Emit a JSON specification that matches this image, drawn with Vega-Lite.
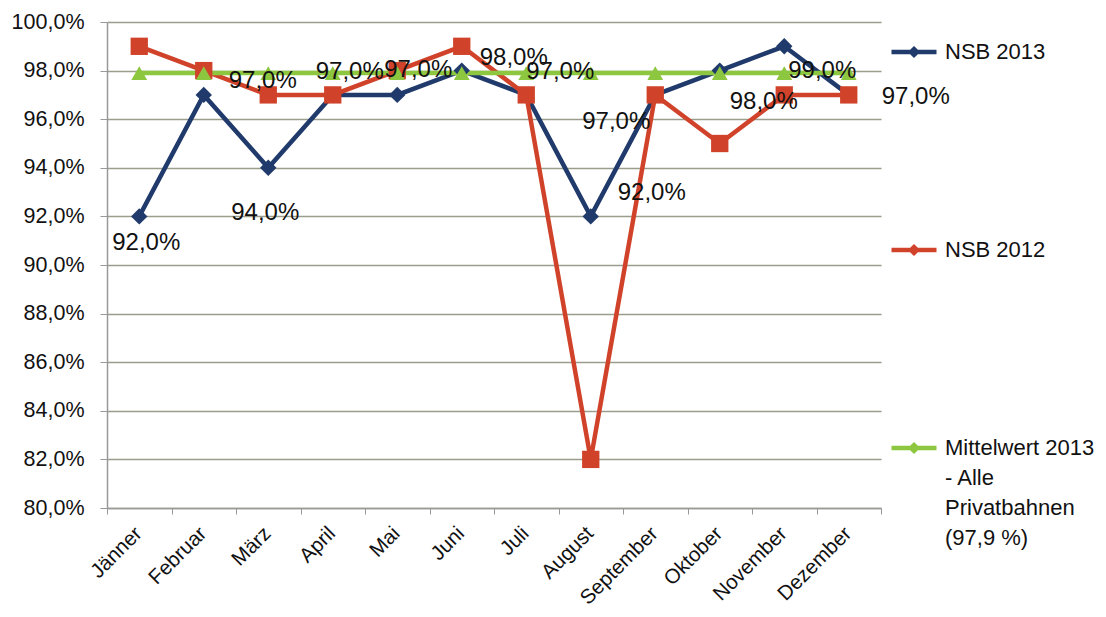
{
  "$schema": "https://vega.github.io/schema/vega-lite/v6.json",
  "width": 774,
  "height": 486,
  "autosize": {"type": "none"},
  "padding": {"left": 107, "top": 22, "right": 225, "bottom": 109},
  "background": "white",
  "config": {
    "locale": {"number": {"decimal": ",", "thousands": ".", "grouping": [3], "currency": ["", " €"]}},
    "font": "Liberation Sans",
    "view": {"stroke": null},
    "style": {"guide-label": {"lineHeight": 30}}
  },
  "data": {
    "values": [
      {"series": "NSB 2013", "month": "Jänner", "value": 0.92},
      {"series": "NSB 2013", "month": "Februar", "value": 0.97},
      {"series": "NSB 2013", "month": "März", "value": 0.94},
      {"series": "NSB 2013", "month": "April", "value": 0.97},
      {"series": "NSB 2013", "month": "Mai", "value": 0.97},
      {"series": "NSB 2013", "month": "Juni", "value": 0.98},
      {"series": "NSB 2013", "month": "Juli", "value": 0.97},
      {"series": "NSB 2013", "month": "August", "value": 0.92},
      {"series": "NSB 2013", "month": "September", "value": 0.97},
      {"series": "NSB 2013", "month": "Oktober", "value": 0.98},
      {"series": "NSB 2013", "month": "November", "value": 0.99},
      {"series": "NSB 2013", "month": "Dezember", "value": 0.97},
      {"series": "NSB 2012", "month": "Jänner", "value": 0.99},
      {"series": "NSB 2012", "month": "Februar", "value": 0.98},
      {"series": "NSB 2012", "month": "März", "value": 0.97},
      {"series": "NSB 2012", "month": "April", "value": 0.97},
      {"series": "NSB 2012", "month": "Mai", "value": 0.98},
      {"series": "NSB 2012", "month": "Juni", "value": 0.99},
      {"series": "NSB 2012", "month": "Juli", "value": 0.97},
      {"series": "NSB 2012", "month": "August", "value": 0.82},
      {"series": "NSB 2012", "month": "September", "value": 0.97},
      {"series": "NSB 2012", "month": "Oktober", "value": 0.95},
      {"series": "NSB 2012", "month": "November", "value": 0.97},
      {"series": "NSB 2012", "month": "Dezember", "value": 0.97},
      {"series": "Mittelwert 2013 - Alle Privatbahnen (97,9 %)", "month": "Jänner", "value": 0.979},
      {"series": "Mittelwert 2013 - Alle Privatbahnen (97,9 %)", "month": "Februar", "value": 0.979},
      {"series": "Mittelwert 2013 - Alle Privatbahnen (97,9 %)", "month": "März", "value": 0.979},
      {"series": "Mittelwert 2013 - Alle Privatbahnen (97,9 %)", "month": "April", "value": 0.979},
      {"series": "Mittelwert 2013 - Alle Privatbahnen (97,9 %)", "month": "Mai", "value": 0.979},
      {"series": "Mittelwert 2013 - Alle Privatbahnen (97,9 %)", "month": "Juni", "value": 0.979},
      {"series": "Mittelwert 2013 - Alle Privatbahnen (97,9 %)", "month": "Juli", "value": 0.979},
      {"series": "Mittelwert 2013 - Alle Privatbahnen (97,9 %)", "month": "August", "value": 0.979},
      {"series": "Mittelwert 2013 - Alle Privatbahnen (97,9 %)", "month": "September", "value": 0.979},
      {"series": "Mittelwert 2013 - Alle Privatbahnen (97,9 %)", "month": "Oktober", "value": 0.979},
      {"series": "Mittelwert 2013 - Alle Privatbahnen (97,9 %)", "month": "November", "value": 0.979},
      {"series": "Mittelwert 2013 - Alle Privatbahnen (97,9 %)", "month": "Dezember", "value": 0.979}
    ]
  },
  "encoding": {
    "x": {
      "field": "month", "type": "ordinal", "sort": null, "bandPosition": 0.5,
      "scale": {"type": "band", "paddingInner": 0, "paddingOuter": 0},
      "axis": {
        "title": null, "labelAngle": -45, "labelFontSize": 20.5, "labelColor": "#111",
        "tickBand": "extent", "tickSize": 6, "tickColor": "#999", "domainColor": "#999",
        "domainWidth": 1.5, "grid": false, "labelPadding": 9, "labelOffset": -8
      }
    },
    "y": {
      "field": "value", "type": "quantitative",
      "scale": {"domain": [0.8, 1.0], "nice": false, "zero": false},
      "axis": {
        "title": null, "format": ".1%", "values": [0.8, 0.82, 0.84, 0.86, 0.88, 0.9, 0.92, 0.94, 0.96, 0.98, 1.0],
        "labelFontSize": 21.5, "labelColor": "#111", "tickSize": 7, "tickColor": "#999",
        "domainColor": "#999", "domainWidth": 1.5, "gridColor": "#9a9d8c", "gridWidth": 1.5,
        "labelPadding": 16
      }
    },
    "color": {
      "field": "series", "type": "nominal",
      "scale": {"domain": ["NSB 2013", "NSB 2012", "Mittelwert 2013 - Alle Privatbahnen (97,9 %)"], "range": ["#1f3a6b", "#d0432a", "#8dc63f"]},
      "legend": {
        "title": null, "orient": "none", "legendX": 782, "legendY": 5,
        "symbolType": "M-1,0H1M0,-0.13L0.13,0L0,0.13L-0.13,0Z", "symbolSize": 2025, "symbolStrokeWidth": 4.5,
        "labelFontSize": 22, "labelColor": "#111", "labelOffset": 6, "rowPadding": 161,
        "labelLimit": 300,
        "labelExpr": "indexof(datum.label, 'Mittelwert') == 0 ? ['Mittelwert 2013', '- Alle', 'Privatbahnen', '(97,9 %)'] : datum.label"
      }
    }
  },
  "layer": [
    {"mark": {"type": "line", "strokeWidth": 4.5}},
    {"transform": [{"filter": "datum.series == 'NSB 2013'"}], "mark": {"type": "point", "filled": true, "opacity": 1, "shape": "diamond", "size": 270}},
    {"transform": [{"filter": "datum.series == 'NSB 2012'"}], "mark": {"type": "point", "filled": true, "opacity": 1, "shape": "square", "size": 300}},
    {"transform": [{"filter": "indexof(datum.series, 'Mittelwert') == 0"}], "mark": {"type": "point", "filled": true, "opacity": 1, "shape": "triangle-up", "size": 250}},
    {"transform": [{"filter": "datum.series == 'NSB 2013' && datum.month == 'Jänner'"}], "mark": {"type": "text", "fontSize": 24, "dx": 7, "dy": 27}, "encoding": {"text": {"field": "value", "format": ".1%"}, "color": {"value": "#111"}}},
    {"transform": [{"filter": "datum.series == 'NSB 2013' && datum.month == 'Februar'"}], "mark": {"type": "text", "fontSize": 24, "dx": 59, "dy": -14}, "encoding": {"text": {"field": "value", "format": ".1%"}, "color": {"value": "#111"}}},
    {"transform": [{"filter": "datum.series == 'NSB 2013' && datum.month == 'März'"}], "mark": {"type": "text", "fontSize": 24, "dx": -3, "dy": 45}, "encoding": {"text": {"field": "value", "format": ".1%"}, "color": {"value": "#111"}}},
    {"transform": [{"filter": "datum.series == 'NSB 2013' && datum.month == 'April'"}], "mark": {"type": "text", "fontSize": 24, "dx": 17, "dy": -23}, "encoding": {"text": {"field": "value", "format": ".1%"}, "color": {"value": "#111"}}},
    {"transform": [{"filter": "datum.series == 'NSB 2013' && datum.month == 'Mai'"}], "mark": {"type": "text", "fontSize": 24, "dx": 21, "dy": -25}, "encoding": {"text": {"field": "value", "format": ".1%"}, "color": {"value": "#111"}}},
    {"transform": [{"filter": "datum.series == 'NSB 2013' && datum.month == 'Juni'"}], "mark": {"type": "text", "fontSize": 24, "dx": 52, "dy": -13}, "encoding": {"text": {"field": "value", "format": ".1%"}, "color": {"value": "#111"}}},
    {"transform": [{"filter": "datum.series == 'NSB 2013' && datum.month == 'Juli'"}], "mark": {"type": "text", "fontSize": 24, "dx": 34, "dy": -23}, "encoding": {"text": {"field": "value", "format": ".1%"}, "color": {"value": "#111"}}},
    {"transform": [{"filter": "datum.series == 'NSB 2013' && datum.month == 'August'"}], "mark": {"type": "text", "fontSize": 24, "dx": 61, "dy": -23}, "encoding": {"text": {"field": "value", "format": ".1%"}, "color": {"value": "#111"}}},
    {"transform": [{"filter": "datum.series == 'NSB 2013' && datum.month == 'September'"}], "mark": {"type": "text", "fontSize": 24, "dx": -39, "dy": 27}, "encoding": {"text": {"field": "value", "format": ".1%"}, "color": {"value": "#111"}}},
    {"transform": [{"filter": "datum.series == 'NSB 2013' && datum.month == 'Oktober'"}], "mark": {"type": "text", "fontSize": 24, "dx": 44, "dy": 31}, "encoding": {"text": {"field": "value", "format": ".1%"}, "color": {"value": "#111"}}},
    {"transform": [{"filter": "datum.series == 'NSB 2013' && datum.month == 'November'"}], "mark": {"type": "text", "fontSize": 24, "dx": 38, "dy": 25}, "encoding": {"text": {"field": "value", "format": ".1%"}, "color": {"value": "#111"}}},
    {"transform": [{"filter": "datum.series == 'NSB 2013' && datum.month == 'Dezember'"}], "mark": {"type": "text", "fontSize": 24, "dx": 67, "dy": 2}, "encoding": {"text": {"field": "value", "format": ".1%"}, "color": {"value": "#111"}}}
  ]
}
